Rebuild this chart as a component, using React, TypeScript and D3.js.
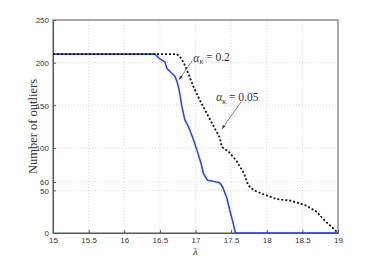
import React, { useRef, useEffect } from "react";
import * as d3 from "d3";

// lambda values and number of outliers
const blueX = [15, 16.43, 16.49, 16.57, 16.6, 16.65, 16.71, 16.74, 16.77, 16.81, 16.85, 16.9, 16.97, 17.04, 17.09, 17.11, 17.17, 17.23, 17.34, 17.38, 17.44, 17.48, 17.53, 17.56, 19];
const blueY = [210, 210, 205, 201, 193, 189, 184, 178, 168, 148, 133, 125, 110, 92, 78, 70, 62, 61, 59, 54, 41, 27, 11, 0, 0];
const blackX = [15, 16.74, 16.8, 16.85, 16.9, 16.97, 17.06, 17.16, 17.25, 17.34, 17.37, 17.47, 17.58, 17.68, 17.74, 17.82, 17.97, 18.13, 18.33, 18.45, 18.56, 18.7, 18.82, 18.9, 19];
const blackY = [210, 210, 205, 197, 187, 172, 156, 140, 126, 112, 101, 95, 84, 70, 56, 50, 45, 40, 38, 35, 32, 25, 14, 8, 0];

const xTicks = [15, 15.5, 16, 16.5, 17, 17.5, 18, 18.5, 19];
const yTicks = [0, 50, 60, 100, 150, 200, 250];

// annotations: label, text anchor (data), arrow start, arrow end
const notes = [
  { value: "0.2", tx: 16.97, ty: 206, x1: 16.95, y1: 202, x2: 16.77, y2: 180 },
  { value: "0.05", tx: 17.29, ty: 160, x1: 17.64, y1: 154, x2: 17.37, y2: 122 },
];

function App() {
  const svgRef = useRef<SVGSVGElement>(null);
  const W = 374, H = 263;
  const m = { left: 53, right: 36, top: 20, bottom: 30 };

  useEffect(() => {
    const svg = d3.select(svgRef.current);
    svg.selectAll("*").remove();
    const x = d3.scaleLinear().domain([15, 19]).range([m.left, W - m.right]);
    const y = d3.scaleLinear().domain([0, 250]).range([H - m.bottom, m.top]);
    const font = "'Liberation Sans', Arial, sans-serif";

    const defs = svg.append("defs");
    defs.append("marker")
      .attr("id", "arr")
      .attr("viewBox", "0 0 10 10")
      .attr("refX", 10).attr("refY", 5)
      .attr("markerWidth", 6).attr("markerHeight", 6)
      .attr("orient", "auto")
      .append("path").attr("d", "M0,1 L10,5 L0,9 z").attr("fill", "#444");

    // grid
    const g = svg.append("g");
    g.selectAll(".gx").data(xTicks.slice(1, -1)).join("line")
      .attr("x1", d => x(d)).attr("x2", d => x(d))
      .attr("y1", y(0)).attr("y2", y(250))
      .attr("stroke", "#c8c8c8").attr("stroke-width", 0.7).attr("stroke-dasharray", "1,2");
    g.selectAll(".gy").data(yTicks.slice(1, -1)).join("line")
      .attr("x1", x(15)).attr("x2", x(19))
      .attr("y1", d => y(d)).attr("y2", d => y(d))
      .attr("stroke", "#c8c8c8").attr("stroke-width", 0.7).attr("stroke-dasharray", "1,2");

    // box
    svg.append("rect")
      .attr("x", x(15)).attr("y", y(250))
      .attr("width", x(19) - x(15)).attr("height", y(0) - y(250))
      .attr("fill", "none").attr("stroke", "#555").attr("stroke-width", 1);

    // axes with inner ticks
    const xAxis = d3.axisBottom(x).tickValues(xTicks).tickSize(-3).tickPadding(6)
      .tickFormat(d => String(d));
    const yAxis = d3.axisLeft(y).tickValues(yTicks).tickSize(-3).tickPadding(4)
      .tickFormat(d => String(d));
    const gx = svg.append("g").attr("transform", `translate(0,${y(0)})`).call(xAxis);
    const gy = svg.append("g").attr("transform", `translate(${x(15)},0)`).call(yAxis);
    [gx, gy].forEach(a => {
      a.select(".domain").attr("stroke", "#555");
      a.selectAll(".tick line").attr("stroke", "#555");
      a.selectAll("text").attr("font-family", font).attr("font-size", 8).attr("fill", "#333");
    });
    gx.selectAll(".tick text").attr("dy", "0.5em");
    gy.selectAll(".tick text").attr("dy", "0.35em");

    const line = d3.line<[number, number]>().x(d => x(d[0])).y(d => y(d[1]));
    const blue = blueX.map((v, i) => [v, blueY[i]] as [number, number]);
    const black = blackX.map((v, i) => [v, blackY[i]] as [number, number]);

    svg.append("path").datum(blue).attr("d", line)
      .attr("fill", "none").attr("stroke", "#2b45ff").attr("stroke-width", 1.6);
    svg.append("path").datum(black).attr("d", line)
      .attr("fill", "none").attr("stroke", "#111").attr("stroke-width", 1.8)
      .attr("stroke-dasharray", "2,2");

    // annotations
    notes.forEach(n => {
      svg.append("line")
        .attr("x1", x(n.x1)).attr("y1", y(n.y1))
        .attr("x2", x(n.x2)).attr("y2", y(n.y2))
        .attr("stroke", "#555").attr("stroke-width", 0.7)
        .attr("marker-end", "url(#arr)");
      const t = svg.append("text")
        .attr("x", x(n.tx)).attr("y", y(n.ty)).attr("dy", "0.35em")
        .attr("font-family", "'Liberation Serif', 'DejaVu Serif', serif")
        .attr("font-size", 11.5).attr("fill", "#333");
      t.append("tspan").attr("font-style", "italic").text("α");
      t.append("tspan").attr("font-style", "italic").attr("font-size", 8).attr("dy", "0.35em").text("κ");
      t.append("tspan").attr("dy", "-0.25em").text(" = " + n.value);
    });

    // axis labels
    svg.append("text")
      .attr("transform", `translate(${m.left - 16},${(y(0) + y(250)) / 2}) rotate(-90)`)
      .attr("text-anchor", "middle")
      .attr("font-family", "'Liberation Serif', serif").attr("font-size", 12.5).attr("fill", "#333")
      .text("Number of outliers");
    svg.append("text")
      .attr("x", x(17)).attr("y", y(0) + 22)
      .attr("text-anchor", "middle")
      .attr("font-family", "'Liberation Serif', serif").attr("font-style", "italic")
      .attr("font-size", 11).attr("fill", "#333")
      .text("λ");
  }, []);

  return (
    <svg ref={svgRef} width={W} height={H}
      style={{ position: "absolute", left: 0, top: 0, background: "#fff" }} />
  );
}

export default App;
